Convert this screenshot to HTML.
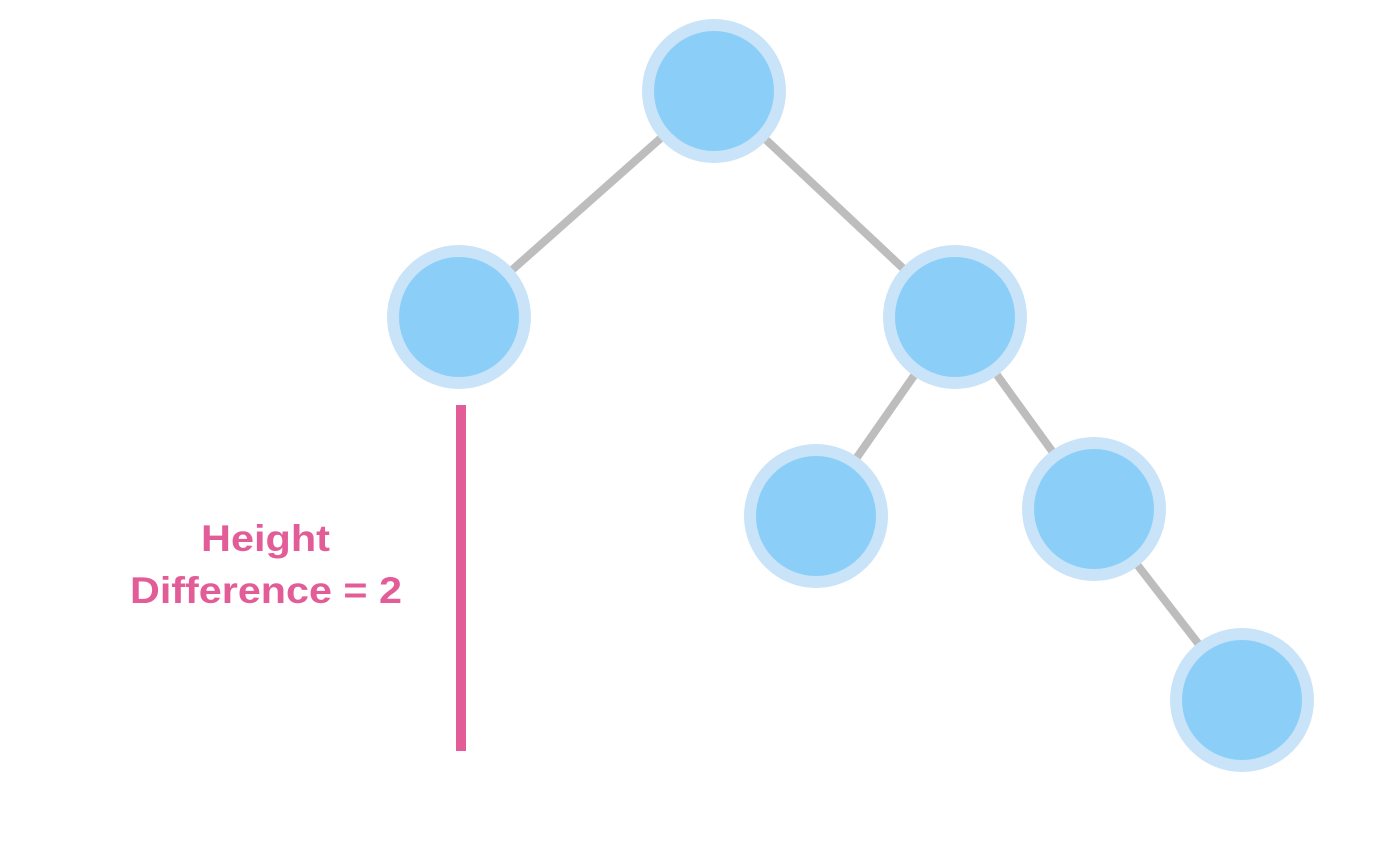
<!DOCTYPE html>
<html><head><meta charset="utf-8"><style>
html,body{margin:0;padding:0;background:#fff;}
svg{display:block;}
</style></head><body>
<svg width="1390" height="854" viewBox="0 0 1390 854" xmlns="http://www.w3.org/2000/svg">
<g stroke="#bdbdbd" stroke-width="8" stroke-linecap="butt">
<line x1="714" y1="91" x2="459" y2="317"/>
<line x1="714" y1="91" x2="955" y2="317"/>
<line x1="955" y1="317" x2="816" y2="516"/>
<line x1="955" y1="317" x2="1094" y2="509"/>
<line x1="1094" y1="509" x2="1242" y2="700"/>
</g>
<g>
<circle cx="714" cy="91" r="72" fill="#c9e3f8"/><circle cx="714" cy="91" r="60" fill="#8bcff8"/>
<circle cx="459" cy="317" r="72" fill="#c9e3f8"/><circle cx="459" cy="317" r="60" fill="#8bcff8"/>
<circle cx="955" cy="317" r="72" fill="#c9e3f8"/><circle cx="955" cy="317" r="60" fill="#8bcff8"/>
<circle cx="816" cy="516" r="72" fill="#c9e3f8"/><circle cx="816" cy="516" r="60" fill="#8bcff8"/>
<circle cx="1094" cy="509" r="72" fill="#c9e3f8"/><circle cx="1094" cy="509" r="60" fill="#8bcff8"/>
<circle cx="1242" cy="700" r="72" fill="#c9e3f8"/><circle cx="1242" cy="700" r="60" fill="#8bcff8"/>
</g>
<rect x="456" y="405" width="10" height="346" fill="#e25d98"/>
<g fill="#e25d98" font-family="Liberation Sans, sans-serif" font-weight="bold" font-size="37">
<text x="201" y="551" textLength="129" lengthAdjust="spacingAndGlyphs">Height</text>
<text x="130" y="603" textLength="272" lengthAdjust="spacingAndGlyphs">Difference = 2</text>
</g>
</svg>
</body></html>
